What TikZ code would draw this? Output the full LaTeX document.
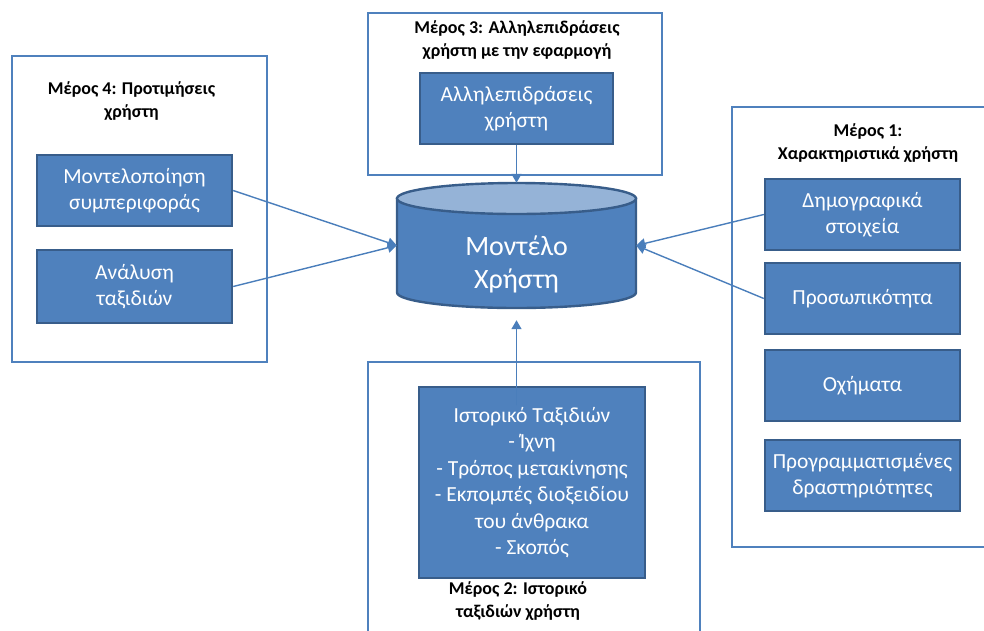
\documentclass[tikz,border=0pt]{standalone}
\usepackage{fontspec}
\setmainfont{Carlito}
\usetikzlibrary{arrows.meta}
\definecolor{boxblue}{HTML}{4F81BD}
\definecolor{boxedge}{HTML}{385D8A}
\definecolor{toplight}{HTML}{95B3D7}
\definecolor{linkblue}{HTML}{4A7EBB}
\tikzset{
  frame/.style={draw=boxblue, line width=1.6pt, inner sep=0pt},
  item/.style={draw=boxedge, fill=boxblue, line width=2.4pt, text=white, align=center,
    inner sep=0pt, minimum width=195pt, minimum height=71pt, font=\fontsize{21.5}{26.5}\selectfont},
  title/.style={align=center, font=\bfseries\fontsize{18}{23}\selectfont},
  link/.style={draw=linkblue, line width=1.4pt, -{Triangle[width=10pt,length=9pt]}}
}
\begin{document}
\begin{tikzpicture}[x=1pt, y=-1pt]
      \clip (0,0) rectangle (984,630);
      % frames
      \node[frame, minimum width=255pt, minimum height=306pt] (f4) at (139.5,209) {};
      \node[frame, minimum width=294pt, minimum height=162pt] (f3) at (515,94) {};
      \node[frame, minimum width=270pt, minimum height=440pt] (f1) at (867,327) {};
      \node[frame, minimum width=332pt, minimum height=300pt] (f2) at (534,512) {};
      \node[title] (t4) at (131.5,101.5) {Μέρος 4: Προτιμήσεις\\χρήστη};
      \node[title] (t3) at (517,40.5) {Μέρος 3: Αλληλεπιδράσεις\\χρήστη με την εφαρμογή};
      \node[title] (t1) at (868,143.5) {Μέρος 1:\\Χαρακτηριστικά χρήστη};
      \node[title] (t2) at (518,601.5) {Μέρος 2: Ιστορικό\\ταξιδιών χρήστη};
      % boxes
      \node[item] (b4a) at (134.5,190.5) {Μοντελοποίηση\\συμπεριφοράς};
      \node[item, minimum height=73pt] (b4b) at (134.5,286.5) {Ανάλυση\\ταξιδιών};
      \node[item, minimum width=193pt] (b3) at (516.5,108.5) {Αλληλεπιδράσεις\\χρήστη};
      \node[item] (b1a) at (862.5,214.5) {Δημογραφικά\\στοιχεία};
      \node[item] (b1b) at (862.5,298.5) {Προσωπικότητα};
      \node[item] (b1c) at (862.5,385.5) {Οχήματα};
      \node[item] (b1d) at (862.5,475.5) {Προγραμματισμένες\\δραστηριότητες};
      \node[item, minimum width=226pt, minimum height=191pt] (b2) at (532,482.5)
        {Ιστορικό Ταξιδιών\\- Ίχνη\\- Τρόπος μετακίνησης\\- Εκπομπές διοξειδίου\\του άνθρακα\\- Σκοπός};
      % user model (cylinder)
      \path[fill=boxblue, draw=boxedge, line width=2.4pt] (397,198.5) -- (397,292.5)
        arc[start angle=180, end angle=0, x radius=119.5, y radius=15.5] -- (636,198.5) -- cycle;
      \path[fill=toplight, draw=boxedge, line width=2.4pt] (516.5,198.5) ellipse[x radius=119.5, y radius=15.5];
      \node[minimum width=239pt, minimum height=125pt, inner sep=0pt] (um) at (516.5,245.5) {};
      \node[text=white, align=center, font=\fontsize{28}{33}\selectfont] (umt) at (516.5,264) {Μοντέλο\\Χρήστη};
      % links
      \coordinate (tail) at (516.5,405);
      \draw[link] (b4a.east) -- (um.west);
      \draw[link] (b4b.east) -- (um.west);
      \draw[link] (b1a.west) -- (um.east);
      \draw[link] (b1b.west) -- (um.east);
      \draw[link] (b3.south) -- (um.north);
      \draw[link, shorten >=12pt] (tail) -- (um.south);
\end{tikzpicture}
\end{document}
